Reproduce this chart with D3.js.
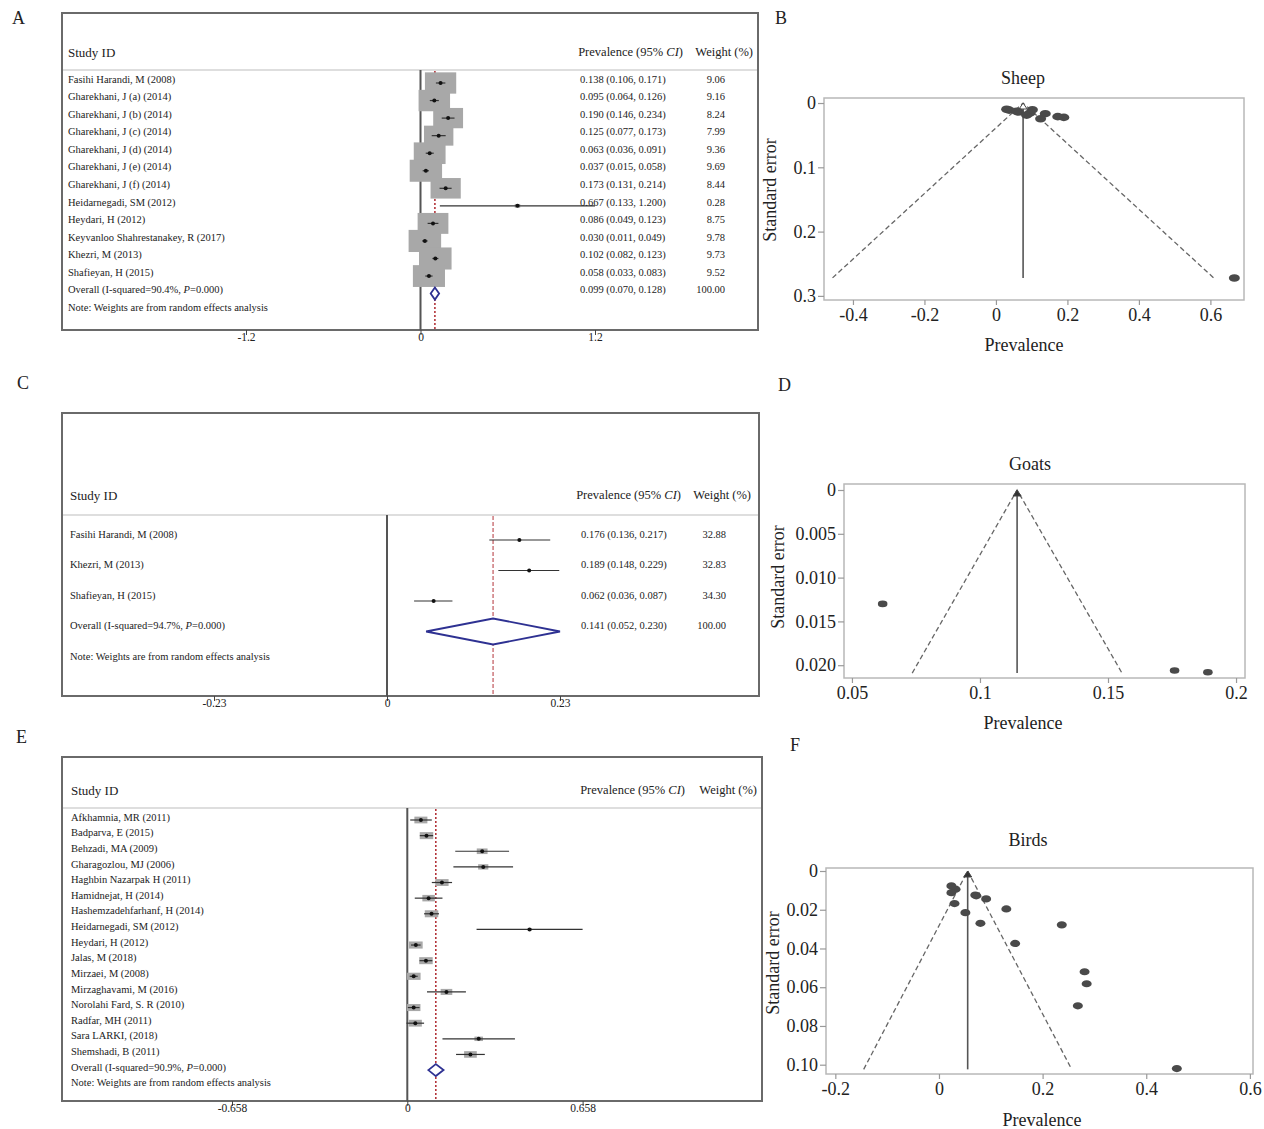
<!DOCTYPE html>
<html>
<head>
<meta charset="utf-8">
<script src="https://cdn.jsdelivr.net/npm/d3@7"></script>
<style>
body { margin: 0; background: #fff; }
text { font-family: "Liberation Serif", "Times New Roman", serif; fill: #222; }
</style>
</head>
<body>
<script>
// ---- Sheep (A, B) ----
const sheepStudies = ["Fasihi Harandi, M (2008)", "Gharekhani, J (a) (2014)", "Gharekhani, J (b) (2014)",
  "Gharekhani, J (c) (2014)", "Gharekhani, J (d) (2014)", "Gharekhani, J (e) (2014)", "Gharekhani, J (f) (2014)",
  "Heidarnegadi, SM (2012)", "Heydari, H (2012)", "Keyvanloo Shahrestanakey, R (2017)", "Khezri, M (2013)",
  "Shafieyan, H (2015)"];
const sheepEst = [0.138, 0.095, 0.190, 0.125, 0.063, 0.037, 0.173, 0.667, 0.086, 0.030, 0.102, 0.058];
const sheepLo = [0.106, 0.064, 0.146, 0.077, 0.036, 0.015, 0.131, 0.133, 0.049, 0.011, 0.082, 0.033];
const sheepHi = [0.171, 0.126, 0.234, 0.173, 0.091, 0.058, 0.214, 1.200, 0.123, 0.049, 0.123, 0.083];
const sheepWeight = [9.06, 9.16, 8.24, 7.99, 9.36, 9.69, 8.44, 0.28, 8.75, 9.78, 9.73, 9.52];
const sheepSE = [0.0166, 0.0158, 0.0224, 0.0245, 0.0140, 0.0110, 0.0212, 0.2722, 0.0189, 0.0097, 0.0105, 0.0128];
const sheepOverall = [0.099, 0.070, 0.128];
const sheepI2 = "90.4%";
const sheepFunnel = [0.076, 0.272];   // centre, max SE

// ---- Goats (C, D) ----
const goatStudies = ["Fasihi Harandi, M (2008)", "Khezri, M (2013)", "Shafieyan, H (2015)"];
const goatEst = [0.176, 0.189, 0.062];
const goatLo = [0.136, 0.148, 0.036];
const goatHi = [0.217, 0.229, 0.087];
const goatWeight = [32.88, 32.83, 34.30];
const goatSE = [0.0206, 0.0208, 0.0130];
const goatOverall = [0.141, 0.052, 0.230];
const goatI2 = "94.7%";
const goatFunnel = [0.1145, 0.0209];

// ---- Birds (E, F) ----
const birdStudies = ["Afkhamnia, MR (2011)", "Badparva, E (2015)", "Behzadi, MA (2009)", "Gharagozlou, MJ (2006)",
  "Haghbin Nazarpak H (2011)", "Hamidnejat, H (2014)", "Hashemzadehfarhanf, H (2014)", "Heidarnegadi, SM (2012)",
  "Heydari, H (2012)", "Jalas, M (2018)", "Mirzaei, M (2008)", "Mirzaghavami, M (2016)", "Norolahi Fard, S. R (2010)",
  "Radfar, MH (2011)", "Sara LARKI, (2018)", "Shemshadi, B (2011)"];
const birdEst = [0.051, 0.072, 0.281, 0.285, 0.130, 0.080, 0.091, 0.459, 0.032, 0.070, 0.024, 0.147, 0.024, 0.030, 0.268, 0.237];
const birdLo = [0.011, 0.047, 0.180, 0.173, 0.092, 0.028, 0.063, 0.260, 0.014, 0.046, 0.009, 0.074, 0.002, -0.003, 0.132, 0.183];
const birdHi = [0.092, 0.097, 0.382, 0.397, 0.168, 0.132, 0.119, 0.658, 0.050, 0.094, 0.039, 0.220, 0.046, 0.063, 0.404, 0.291];
const birdWeight = [6.5, 7.0, 4.5, 4.0, 6.8, 6.0, 7.0, 0.8, 7.2, 7.0, 7.3, 5.2, 7.0, 6.6, 2.8, 6.2];
const birdSE = [0.0215, 0.0128, 0.0520, 0.0582, 0.0196, 0.0270, 0.0144, 0.1020, 0.0094, 0.0124, 0.0077, 0.0374, 0.0112, 0.0168, 0.0696, 0.0278];
const birdOverall = [0.107, 0.079, 0.136];
const birdI2 = "90.9%";
const birdFunnel = [0.0554, 0.1024];

const svg = d3.select("body").append("svg").attr("width", 1264).attr("height", 1129);
const f3 = d3.format(".3f"), f2 = d3.format(".2f");

function forest(o) {
  const g = svg.append("g");
  const x = d3.scaleLinear().domain([o.ticks[0], o.ticks[2]]).range(o.xr);
  const y = d3.scaleLinear().domain([0, 1]).range([o.row0, o.row0 + o.step]);
  const n = o.names.length;

  g.append("rect").attr("x", o.left).attr("y", o.top).attr("width", o.right - o.left).attr("height", o.bottom - o.top)
    .attr("fill", "none").attr("stroke", "#6a6a6a").attr("stroke-width", 2);
  g.append("line").attr("x1", o.left + 1).attr("x2", o.right - 1).attr("y1", o.sep).attr("y2", o.sep)
    .attr("stroke", "#dedede").attr("stroke-width", 2);

  g.append("text").attr("x", o.nameX).attr("y", o.headY).attr("dy", "0.35em").attr("font-size", 13).text("Study ID");
  const ph = g.append("text").attr("x", o.prevHeadX).attr("y", o.headY).attr("dy", "0.35em")
    .attr("font-size", 12.5).attr("text-anchor", "end");
  ph.append("tspan").text("Prevalence (95% ");
  ph.append("tspan").attr("font-style", "italic").text("CI");
  ph.append("tspan").text(")");
  g.append("text").attr("x", o.wtHeadX).attr("y", o.headY).attr("dy", "0.35em")
    .attr("font-size", 12.5).attr("text-anchor", "end").text("Weight (%)");

  // reference lines
  g.append("line").attr("x1", x(o.overall[0])).attr("x2", x(o.overall[0])).attr("y1", o.sep + 1).attr("y2", o.bottom - 1)
    .attr("stroke", "#b3343a").attr("stroke-width", o.redW).attr("stroke-dasharray", o.redDash);
  g.append("line").attr("x1", x(0)).attr("x2", x(0)).attr("y1", o.sep).attr("y2", o.bottom)
    .attr("stroke", "#555").attr("stroke-width", 2);

  const idx = d3.range(n);
  if (o.boxK > 0) {
    g.selectAll(".box").data(idx).join("rect")
      .attr("x", i => x(o.est[i]) - o.boxK * Math.sqrt(o.w[i]) / 2)
      .attr("y", i => y(i) + o.off - o.boxK * Math.sqrt(o.w[i]) * o.aspect / 2)
      .attr("width", i => o.boxK * Math.sqrt(o.w[i]))
      .attr("height", i => o.boxK * Math.sqrt(o.w[i]) * o.aspect)
      .attr("fill", "#a8a8a8");
  }
  g.selectAll(".ci").data(idx).join("line")
    .attr("x1", i => x(o.lo[i])).attr("x2", i => x(o.hi[i]))
    .attr("y1", i => y(i) + o.off).attr("y2", i => y(i) + o.off)
    .attr("stroke", "#333").attr("stroke-width", 1.2);
  g.selectAll(".pt").data(idx).join("circle")
    .attr("cx", i => x(o.est[i])).attr("cy", i => y(i) + o.off).attr("r", 2).attr("fill", "#111");

  const yc = y(n) + o.off, h = o.dh;
  g.append("path")
    .attr("d", `M${x(o.overall[1])},${yc}L${x(o.overall[0])},${yc - h}L${x(o.overall[2])},${yc}L${x(o.overall[0])},${yc + h}Z`)
    .attr("fill", "#fff").attr("stroke", "#2e3192").attr("stroke-width", 1.8);

  // row text
  g.selectAll(".nm").data(idx).join("text")
    .attr("x", o.nameX).attr("y", i => y(i)).attr("dy", "0.35em").attr("font-size", 10.5).text(i => o.names[i]);
  const ov = g.append("text").attr("x", o.nameX).attr("y", y(n)).attr("dy", "0.35em").attr("font-size", 10.5);
  ov.append("tspan").text("Overall (I-squared=" + o.i2 + ", ");
  ov.append("tspan").attr("font-style", "italic").text("P");
  ov.append("tspan").text("=0.000)");
  g.append("text").attr("x", o.nameX).attr("y", y(n + 1)).attr("dy", "0.35em").attr("font-size", 10.5)
    .text("Note: Weights are from random effects analysis");

  if (o.values) {
    const all = idx.concat([n]);
    const e = i => i < n ? o.est[i] : o.overall[0];
    const l = i => i < n ? o.lo[i] : o.overall[1];
    const u = i => i < n ? o.hi[i] : o.overall[2];
    g.selectAll(".val").data(all).join("text")
      .attr("x", o.valX).attr("y", i => y(i)).attr("dy", "0.35em").attr("font-size", 10.5)
      .text(i => `${f3(e(i))} (${f3(l(i))}, ${f3(u(i))})`);
    g.selectAll(".wt").data(all).join("text")
      .attr("x", o.wtX).attr("y", i => y(i)).attr("dy", "0.35em").attr("font-size", 10.5).attr("text-anchor", "end")
      .text(i => i < n ? f2(o.w[i]) : "100.00");
  }

  const ax = g.append("g").attr("transform", `translate(0,${o.bottom})`)
    .call(d3.axisBottom(x).tickValues(o.ticks).tickSize(5).tickPadding(-2).tickFormat(d => String(d)));
  ax.select(".domain").remove();
  ax.selectAll(".tick line").attr("stroke", "#444");
  ax.selectAll(".tick text").attr("font-size", 11.5).attr("font-family", "Liberation Serif").attr("fill", "#222");
}

function funnel(o) {
  const g = svg.append("g");
  const x = d3.scaleLinear().domain(o.xd).range([o.left, o.right]);
  const y = d3.scaleLinear().domain(o.yd).range([o.top, o.bottom]);

  g.append("rect").attr("x", o.left).attr("y", o.top).attr("width", o.right - o.left).attr("height", o.bottom - o.top)
    .attr("fill", "none").attr("stroke", "#b8b8b8").attr("stroke-width", 1.5);

  const ay = g.append("g").attr("transform", `translate(${o.left},0)`)
    .call(d3.axisLeft(y).tickValues(o.yt).tickSize(6).tickPadding(2).tickFormat(o.yf));
  const ax = g.append("g").attr("transform", `translate(0,${o.bottom})`)
    .call(d3.axisBottom(x).tickValues(o.xt).tickSize(5).tickPadding(3).tickFormat(d => String(d)));
  [ax, ay].forEach(a => {
    a.select(".domain").remove();
    a.selectAll(".tick line").attr("stroke", "#999").attr("stroke-width", 1.2);
    a.selectAll(".tick text").attr("font-size", 18).attr("font-family", "Liberation Serif").attr("fill", "#222");
  });

  const c = o.funnel[0], m = o.funnel[1];
  g.append("line").attr("x1", x(c)).attr("x2", x(c)).attr("y1", y(0)).attr("y2", y(m))
    .attr("stroke", "#555").attr("stroke-width", 1.6);
  g.append("path").attr("d", d3.line()([[x(c - 1.96 * m), y(m)], [x(c), y(0)], [x(c + 1.96 * m), y(m)]]))
    .attr("fill", "none").attr("stroke", "#666").attr("stroke-width", 1.3).attr("stroke-dasharray", "5,3");
  // small apex marker
  g.append("path").attr("d", `M${x(c) - 4},${y(0) + 6}L${x(c)},${y(0)}L${x(c) + 4},${y(0) + 6}Z`)
    .attr("fill", o.apexFill).attr("stroke", "#444").attr("stroke-width", 1);

  g.selectAll(".dot").data(d3.range(o.est.length)).join("ellipse")
    .attr("cx", i => x(o.est[i])).attr("cy", i => y(o.se[i])).attr("rx", o.rx).attr("ry", o.ry).attr("fill", "#4a4a4a");

  g.append("text").attr("x", o.titleX).attr("y", o.titleY).attr("text-anchor", "middle").attr("dy", "0.35em")
    .attr("font-size", 18).text(o.title);
  g.append("text").attr("transform", `translate(${o.ylabX},${o.ylabY}) rotate(-90)`).attr("text-anchor", "middle")
    .attr("dy", "0.35em").attr("font-size", 18).text("Standard error");
  g.append("text").attr("x", o.xlabX).attr("y", o.xlabY).attr("text-anchor", "middle").attr("dy", "0.35em")
    .attr("font-size", 18).text("Prevalence");
}

forest({ names: sheepStudies, est: sheepEst, lo: sheepLo, hi: sheepHi, w: sheepWeight, overall: sheepOverall, i2: sheepI2,
  left: 62, top: 13, right: 758, bottom: 330, sep: 70, headY: 52, nameX: 68, prevHeadX: 683, wtHeadX: 753,
  values: true, valX: 580, wtX: 725, ticks: [-1.2, 0, 1.2], xr: [246, 595], row0: 79, step: 17.55, off: 4,
  boxK: 10.4, aspect: 0.68, dh: 6, redDash: "2,2", redW: 1.6 });

forest({ names: goatStudies, est: goatEst, lo: goatLo, hi: goatHi, w: goatWeight, overall: goatOverall, i2: goatI2,
  left: 62, top: 413, right: 759, bottom: 696, sep: 515, headY: 495, nameX: 70, prevHeadX: 681, wtHeadX: 751,
  values: true, valX: 581, wtX: 726, ticks: [-0.23, 0, 0.23], xr: [214, 560], row0: 534, step: 30.5, off: 6,
  boxK: 0, aspect: 1, dh: 13, redDash: "4,2", redW: 1 });

forest({ names: birdStudies, est: birdEst, lo: birdLo, hi: birdHi, w: birdWeight, overall: birdOverall, i2: birdI2,
  left: 62, top: 757, right: 762, bottom: 1101, sep: 808, headY: 790, nameX: 71, prevHeadX: 685, wtHeadX: 757,
  values: false, ticks: [-0.658, 0, 0.658], xr: [232, 582.6], row0: 817, step: 15.63, off: 3,
  boxK: 5.1, aspect: 0.52, dh: 6, redDash: "2,2", redW: 1.6 });

funnel({ est: sheepEst, se: sheepSE, funnel: sheepFunnel, title: "Sheep", apexFill: "#fff",
  left: 824, right: 1244, top: 98, bottom: 300, xd: [-0.481, 0.694], yd: [-0.0078, 0.3064],
  xt: [-0.4, -0.2, 0, 0.2, 0.4, 0.6], yt: [0, 0.1, 0.2, 0.3], yf: d => d === 0 ? "0" : d.toFixed(1),
  rx: 5.5, ry: 3.8, titleX: 1023, titleY: 78, ylabX: 770, ylabY: 190, xlabX: 1024, xlabY: 345 });

funnel({ est: goatEst, se: goatSE, funnel: goatFunnel, title: "Goats", apexFill: "#333",
  left: 844, right: 1245, top: 484, bottom: 678, xd: [0.0469, 0.2035], yd: [-0.000685, 0.02146],
  xt: [0.05, 0.1, 0.15, 0.2], yt: [0, 0.005, 0.010, 0.015, 0.020], yf: d => d === 0 ? "0" : d.toFixed(3),
  rx: 4.8, ry: 3.3, titleX: 1030, titleY: 464, ylabX: 778, ylabY: 577, xlabX: 1023, xlabY: 723 });

funnel({ est: birdEst, se: birdSE, funnel: birdFunnel, title: "Birds", apexFill: "#333",
  left: 826, right: 1253, top: 868, bottom: 1074, xd: [-0.218, 0.606], yd: [-0.00155, 0.1048],
  xt: [-0.2, 0, 0.2, 0.4, 0.6], yt: [0, 0.02, 0.04, 0.06, 0.08, 0.10], yf: d => d === 0 ? "0" : d.toFixed(2),
  rx: 5, ry: 3.6, titleX: 1028, titleY: 840, ylabX: 773, ylabY: 963, xlabX: 1042, xlabY: 1120 });

// panel letters
const letters = ["A", "B", "C", "D", "E", "F"];
const letterX = [12, 775, 17, 778, 16, 790];
const letterY = [24, 24, 389, 391, 743, 751];
svg.selectAll(".letter").data(letters).join("text")
  .attr("x", (d, i) => letterX[i]).attr("y", (d, i) => letterY[i]).attr("font-size", 18).text(d => d);
</script>
</body>
</html>
